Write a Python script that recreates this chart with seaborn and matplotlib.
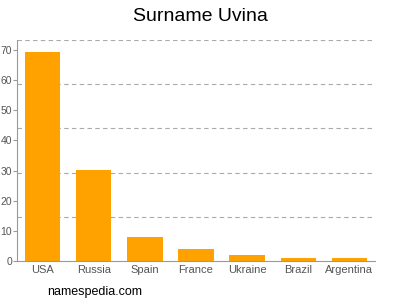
import matplotlib
matplotlib.use("Agg")
import matplotlib.pyplot as plt
import seaborn as sns
import numpy as np
import pandas as pd

countries = ["USA", "Russia", "Spain", "France", "Ukraine", "Brazil", "Argentina"]
counts = [69.3, 30.2, 8.1, 4.0, 2.0, 1.1, 1.1]
yticks = [0, 10, 20, 30, 40, 50, 60, 70]
title = "Surname Uvina"
watermark = "namespedia.com"

sns.set_style("white")
plt.rcParams['font.family'] = ['Liberation Sans', 'DejaVu Sans']

fig = plt.figure(figsize=(4, 3), dpi=100)
ax = fig.add_axes([0.0425, 0.13, 0.895, 0.7367])

df = pd.DataFrame({"country": countries, "count": counts})
sns.barplot(data=df, x="country", y="count", color="#FFA200", saturation=1,
            width=0.69, linewidth=0, ax=ax)

ymax = 73.3
ax.set_ylim(0, ymax)
ax.set_xlim(-0.5, len(countries) - 0.5)
ax.set_yticks(yticks)
ax.set_yticks([ymax * k / 5 for k in range(1, 6)], minor=True)
ax.yaxis.grid(True, which="minor", linestyle=(0, (4, 3)), color="#aaaaaa", linewidth=0.8)
ax.yaxis.grid(False, which="major")
ax.set_axisbelow(True)
ax.tick_params(axis="y", which="minor", length=0)
ax.tick_params(axis="y", which="major", length=3, width=0.8, color="#999999",
               labelsize=7.5, labelcolor="#555555", pad=0.5, left=True)
ax.tick_params(axis="x", length=0, labelsize=8, labelcolor="#555555", pad=3)
ax.set_xlabel("")
ax.set_ylabel("")
for s in ["top", "right"]:
    ax.spines[s].set_visible(False)
for s in ["left", "bottom"]:
    ax.spines[s].set_color("#999999")
    ax.spines[s].set_linewidth(0.8)

fig.text(0.5, 0.945, title, ha="center", va="center", fontsize=14, color="#000000")
fig.text(0.1175, 0.027, watermark, ha="left", va="center", fontsize=9, color="#000000")

fig.savefig("out.png", dpi=100)
